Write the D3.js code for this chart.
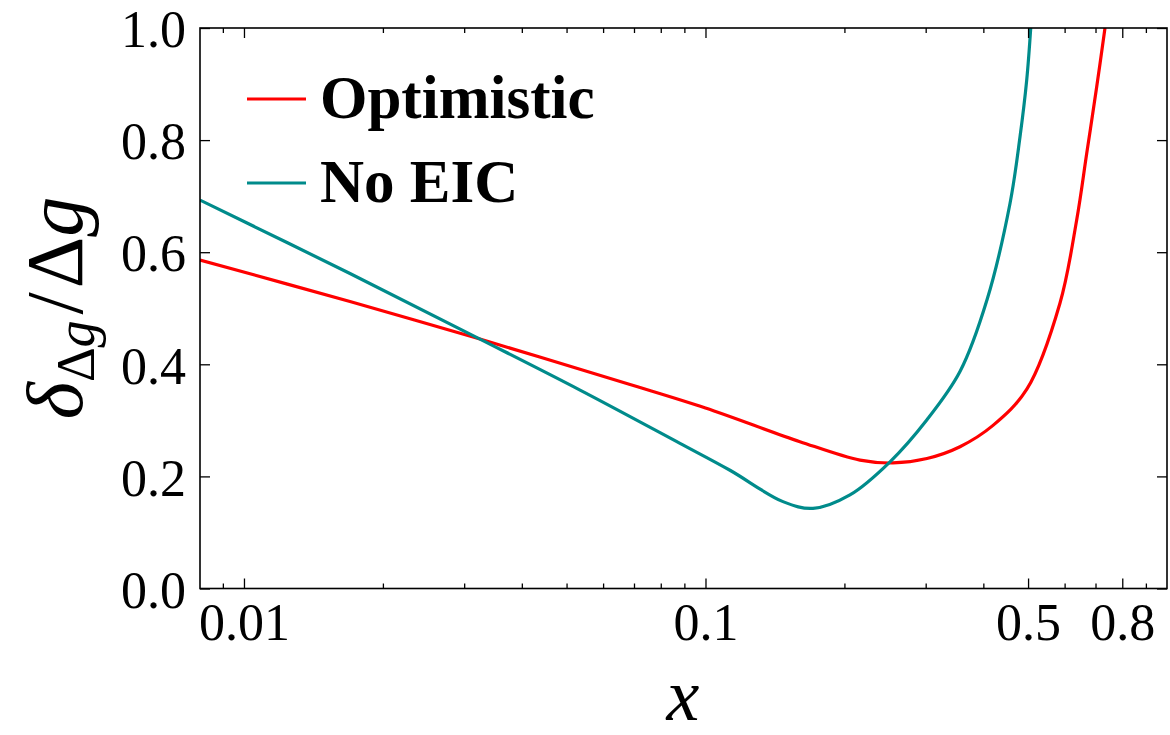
<!DOCTYPE html>
<html>
<head>
<meta charset="utf-8">
<script src="https://cdn.jsdelivr.net/npm/d3@7"></script>
<style>
  html, body { margin: 0; padding: 0; background: #fff; }
  svg { display: block; }
  text { font-family: "Liberation Serif", "Times New Roman", serif; fill: #000; }
</style>
</head>
<body>
<svg id="chart" width="1170" height="735"></svg>
<script>
// ---- data ----
const xMajorTicks = [0.01, 0.1, 0.5, 0.8];
const xMajorLabels = ["0.01", "0.1", "0.5", "0.8"];
const xMinorTicks = [0.009, 0.02, 0.03, 0.04, 0.05, 0.06, 0.07, 0.08, 0.09, 0.2, 0.3, 0.4, 0.6, 0.7, 0.9];
const yTicks = [0.0, 0.2, 0.4, 0.6, 0.8, 1.0];
const yTickLabels = ["0.0", "0.2", "0.4", "0.6", "0.8", "1.0"];

const seriesNames = ["Optimistic", "No EIC"];
const seriesColors = ["#ff0000", "#008b8b"];

const xOptimistic = [0.00803, 0.01697, 0.03246, 0.06863, 0.1, 0.1602, 0.2162, 0.2548, 0.3019, 0.356, 0.4198, 0.4973, 0.5862, 0.6371, 0.6699, 0.7042, 0.7339];
const yOptimistic = [0.586, 0.512, 0.445, 0.364, 0.322, 0.262, 0.229, 0.224, 0.232, 0.253, 0.291, 0.356, 0.509, 0.657, 0.776, 0.895, 1.0];

const xNoEIC = [0.00803, 0.01697, 0.03246, 0.05348, 0.08805, 0.113, 0.1472, 0.171, 0.2056, 0.2511, 0.3019, 0.356, 0.4074, 0.4569, 0.4803, 0.4966, 0.5067];
const yNoEIC = [0.693, 0.562, 0.445, 0.354, 0.259, 0.211, 0.155, 0.143, 0.167, 0.226, 0.301, 0.387, 0.515, 0.687, 0.806, 0.907, 1.0];

// ---- layout ----
const svg = d3.select("#chart");
const L = 200, R = 1167, T = 28, B = 588.5;

const x = d3.scaleLog().domain([0.00803, 1.0]).range([L, R]);
const y = d3.scaleLinear().domain([0, 1]).range([B, T]);

svg.append("defs").append("clipPath").attr("id", "clip")
  .append("rect").attr("x", L).attr("y", T).attr("width", R - L).attr("height", B - T);

// lines
const line = d3.line().x(d => x(d[0])).y(d => y(d[1])).curve(d3.curveCatmullRom.alpha(0.5));
const series = [
  d3.zip(xOptimistic, yOptimistic),
  d3.zip(xNoEIC, yNoEIC)
];
series.forEach((s, i) => {
  svg.append("path").datum(s)
    .attr("clip-path", "url(#clip)")
    .attr("fill", "none")
    .attr("stroke", seriesColors[i])
    .attr("stroke-width", 3.2)
    .attr("d", line);
});

// axes (ticks inward)
function styleAxis(g) {
  g.select(".domain").remove();
  g.selectAll("line").attr("stroke", "#000").attr("stroke-width", 1.3);
}
svg.append("g").attr("transform", `translate(0,${B})`)
  .call(d3.axisBottom(x).tickValues(xMajorTicks).tickSize(-10).tickFormat((d, i) => xMajorLabels[i]))
  .call(styleAxis)
  .call(g => g.selectAll("text").attr("font-size", 52).attr("font-family", "Liberation Serif").attr("y", 51).attr("dy", 0));
svg.append("g").attr("transform", `translate(0,${B})`)
  .call(d3.axisBottom(x).tickValues(xMinorTicks).tickSize(-5).tickFormat(""))
  .call(styleAxis);
svg.append("g").attr("transform", `translate(0,${T})`)
  .call(d3.axisTop(x).tickValues(xMajorTicks).tickSize(-10).tickFormat(""))
  .call(styleAxis);
svg.append("g").attr("transform", `translate(0,${T})`)
  .call(d3.axisTop(x).tickValues(xMinorTicks).tickSize(-5).tickFormat(""))
  .call(styleAxis);
svg.append("g").attr("transform", `translate(${L},0)`)
  .call(d3.axisLeft(y).tickValues(yTicks).tickSize(-10).tickFormat((d, i) => yTickLabels[i]))
  .call(styleAxis)
  .call(g => g.selectAll("text").attr("font-size", 52).attr("font-family", "Liberation Serif").attr("x", -14).attr("dy", "0.36em"));
svg.append("g").attr("transform", `translate(${R},0)`)
  .call(d3.axisRight(y).tickValues(yTicks).tickSize(-10).tickFormat(""))
  .call(styleAxis);

// frame
svg.append("rect").attr("x", L).attr("y", T).attr("width", R - L).attr("height", B - T)
  .attr("fill", "none").attr("stroke", "#000").attr("stroke-width", 1.6);

// legend
const legY = [99, 183];
seriesNames.forEach((n, i) => {
  svg.append("line").attr("x1", 247).attr("x2", 306).attr("y1", legY[i]).attr("y2", legY[i])
    .attr("stroke", seriesColors[i]).attr("stroke-width", 3.2);
  svg.append("text").attr("x", 320).attr("y", legY[i] + 19)
    .attr("font-size", 61).attr("font-weight", "bold").text(n);
});

// x label
svg.append("text").attr("x", 683).attr("y", 720).attr("text-anchor", "middle")
  .attr("font-size", 74).attr("font-style", "italic").text("x");

// y label
const yl = svg.append("text").attr("transform", "translate(82,308) rotate(-90)")
  .attr("text-anchor", "middle").attr("font-size", 80);
yl.append("tspan").attr("font-style", "italic").text("δ");
yl.append("tspan").attr("font-size", 54).attr("dy", 12).text("Δ");
yl.append("tspan").attr("font-size", 54).attr("font-style", "italic").text("g");
yl.append("tspan").attr("dy", -12).attr("dx", 6).text("/");
yl.append("tspan").attr("dx", 4).text("Δ");
yl.append("tspan").attr("font-style", "italic").text("g");
</script>
</body>
</html>
